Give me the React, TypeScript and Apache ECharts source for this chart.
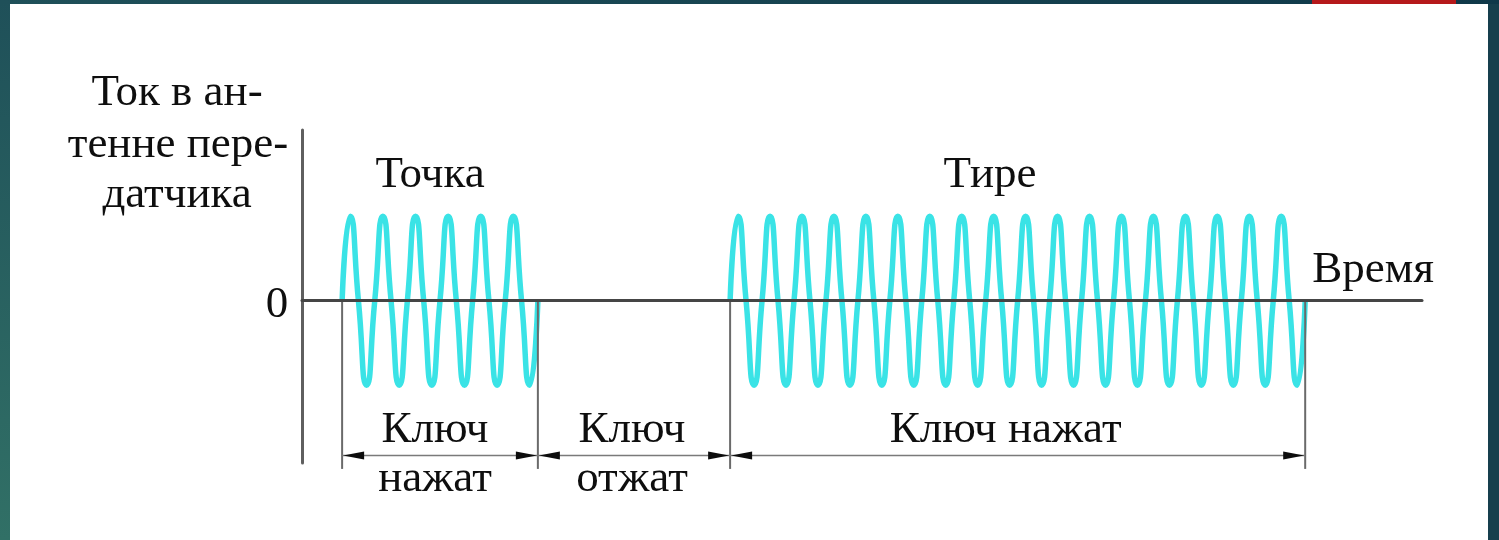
import React, { useEffect, useRef } from "react";
import * as echarts from "echarts";

// Time is measured in carrier periods; current in carrier amplitudes.
const keyTimes = [1.25, 7.35, 13.34, 31.26]; // key pressed / released instants
const keySpans = [
  [1.25, 7.35],
  [7.35, 13.34],
  [13.34, 31.26],
];
const spanTopLabels = ["Ключ", "Ключ", "Ключ нажат"];
const spanBottomLabels = ["нажат", "отжат", ""];

// quarter-period samples of the antenna current
const dotSignal = [
  0, 1, 0, -1,
  0, 1, 0, -1,
  0, 1, 0, -1,
  0, 1, 0, -1,
  0, 1, 0, -1,
  0, 1, 0, -1,
  0,
];
const dashSignal = [
  0, 1, 0, -1,
  0, 1, 0, -1,
  0, 1, 0, -1,
  0, 1, 0, -1,
  0, 1, 0, -1,
  0, 1, 0, -1,
  0, 1, 0, -1,
  0, 1, 0, -1,
  0, 1, 0, -1,
  0, 1, 0, -1,
  0, 1, 0, -1,
  0, 1, 0, -1,
  0, 1, 0, -1,
  0, 1, 0, -1,
  0, 1, 0, -1,
  0, 1, 0, -1,
  0, 1, 0, -1,
  0, 1, 0, -1,
  0,
];

const burstLabels = ["Точка", "Тире"];
const yTitleLines = ["Ток в ан-", "тенне пере-", "датчика"];
const xTitle = "Время";
const zeroLabel = "0";

// axis extents
const xMin = 0;
const xMax = 34.9;
const yMin = -1.92;
const yMax = 2.02;
const dimLevel = -1.83;
const extBottom = -1.99;
const labelShift = [-5, -2, -12]; // px shift of span captions from span centre

const FONT = '45px "Liberation Serif", "Times New Roman", serif';
const TEXT_COLOR = "#0e0e0e";
const WAVE_COLOR = "#3ae3e6";

function burst(signal: number[], t0: number, t1: number) {
  const step = (t1 - t0) / (signal.length - 1);
  return signal.map((v, i) => [t0 + i * step, v]);
}

function textStyle(text: string) {
  return {
    text,
    fill: TEXT_COLOR,
    font: FONT,
    align: "center",
    verticalAlign: "middle",
  };
}

export default function App() {
  const ref = useRef<HTMLDivElement>(null);

  useEffect(() => {
    if (!ref.current) return;
    const chart = echarts.init(ref.current, null, { renderer: "svg" });

    const txt = (text: string, x: number, y: number) => ({
      type: "text",
      x,
      y,
      z: 20,
      style: textStyle(text),
    });

    chart.setOption({
      animation: false,
      grid: { left: 302, right: 77, top: 130, bottom: 77, containLabel: false },
      xAxis: {
        type: "value",
        min: xMin,
        max: xMax,
        z: 10,
        axisLine: { show: true, onZero: true, lineStyle: { color: "#454545", width: 3 } },
        axisTick: { show: false },
        axisLabel: { show: false },
        splitLine: { show: false },
      },
      yAxis: {
        type: "value",
        min: yMin,
        max: yMax,
        z: 10,
        axisLine: { show: true, onZero: false, lineStyle: { color: "#5f5f5f", width: 3 } },
        axisTick: { show: false },
        axisLabel: { show: false },
        splitLine: { show: false },
      },
      graphic: [
        { type: "rect", z: -20, shape: { x: 0, y: 0, width: 1499, height: 540 }, style: { fill: "#163f4d" } },
        {
          type: "rect",
          z: -19,
          shape: { x: 0, y: 0, width: 10, height: 540 },
          style: {
            fill: new echarts.graphic.LinearGradient(0, 0, 0, 1, [
              { offset: 0, color: "#1f5059" },
              { offset: 1, color: "#317066" },
            ]),
          },
        },
        {
          type: "rect",
          z: -19,
          shape: { x: 0, y: 0, width: 1499, height: 4 },
          style: {
            fill: new echarts.graphic.LinearGradient(0, 0, 1, 0, [
              { offset: 0, color: "#1f5059" },
              { offset: 1, color: "#0f3849" },
            ]),
          },
        },
        { type: "rect", z: -18, shape: { x: 1312, y: 0, width: 144, height: 4 }, style: { fill: "#b5191b" } },
        { type: "rect", z: -18, shape: { x: 10, y: 4, width: 1478, height: 536 }, style: { fill: "#ffffff" } },
        txt(yTitleLines[0], 177, 90),
        txt(yTitleLines[1], 178, 142),
        txt(yTitleLines[2], 177, 192),
        txt(burstLabels[0], 430, 172),
        txt(burstLabels[1], 990, 172),
        txt(xTitle, 1373, 267),
        txt(zeroLabel, 277, 302),
      ],
      series: [
        {
          type: "line",
          name: "Точка",
          data: burst(dotSignal, keyTimes[0], keyTimes[1]),
          smooth: 0.62,
          showSymbol: false,
          symbol: "none",
          lineStyle: { color: WAVE_COLOR, width: 5.5 },
          z: 3,
        },
        {
          type: "line",
          name: "Тире",
          data: burst(dashSignal, keyTimes[2], keyTimes[3]),
          smooth: 0.62,
          showSymbol: false,
          symbol: "none",
          lineStyle: { color: WAVE_COLOR, width: 5.5 },
          z: 3,
        },
        {
          type: "custom",
          name: "extension",
          data: keyTimes.map((t) => [t]),
          z: 4,
          renderItem: (params: any, api: any) => {
            const t = api.value(0);
            const a = api.coord([t, 0]);
            const b = api.coord([t, extBottom]);
            return {
              type: "line",
              shape: { x1: a[0], y1: a[1], x2: b[0], y2: b[1] },
              style: { stroke: "#6a6a6a", lineWidth: 2 },
            };
          },
        },
        {
          type: "custom",
          name: "dimensions",
          data: keySpans.map((s, i) => [s[0], s[1], i]),
          z: 5,
          renderItem: (params: any, api: any) => {
            const t1 = api.value(0);
            const t2 = api.value(1);
            const i = params.dataIndex;
            const a = api.coord([t1, dimLevel]);
            const b = api.coord([t2, dimLevel]);
            const L = 22;
            const W = 4;
            const mid = (a[0] + b[0]) / 2 + labelShift[i];
            const children: any[] = [
              {
                type: "line",
                shape: { x1: a[0], y1: a[1], x2: b[0], y2: b[1] },
                style: { stroke: "#7a7a7a", lineWidth: 1.5 },
              },
              {
                type: "polygon",
                shape: { points: [[a[0] + 1, a[1]], [a[0] + L, a[1] - W], [a[0] + L, a[1] + W]] },
                style: { fill: "#0d0d0d" },
              },
              {
                type: "polygon",
                shape: { points: [[b[0] - 1, b[1]], [b[0] - L, b[1] - W], [b[0] - L, b[1] + W]] },
                style: { fill: "#0d0d0d" },
              },
              {
                type: "text",
                x: mid,
                y: a[1] - 28,
                style: textStyle(spanTopLabels[i]),
              },
            ];
            if (spanBottomLabels[i]) {
              children.push({
                type: "text",
                x: mid,
                y: a[1] + 21,
                style: textStyle(spanBottomLabels[i]),
              });
            }
            return { type: "group", children };
          },
        },
      ],
    });

    return () => chart.dispose();
  }, []);

  return (
    <div
      ref={ref}
      style={{ position: "fixed", left: 0, top: 0, width: 1499, height: 540 }}
    />
  );
}
